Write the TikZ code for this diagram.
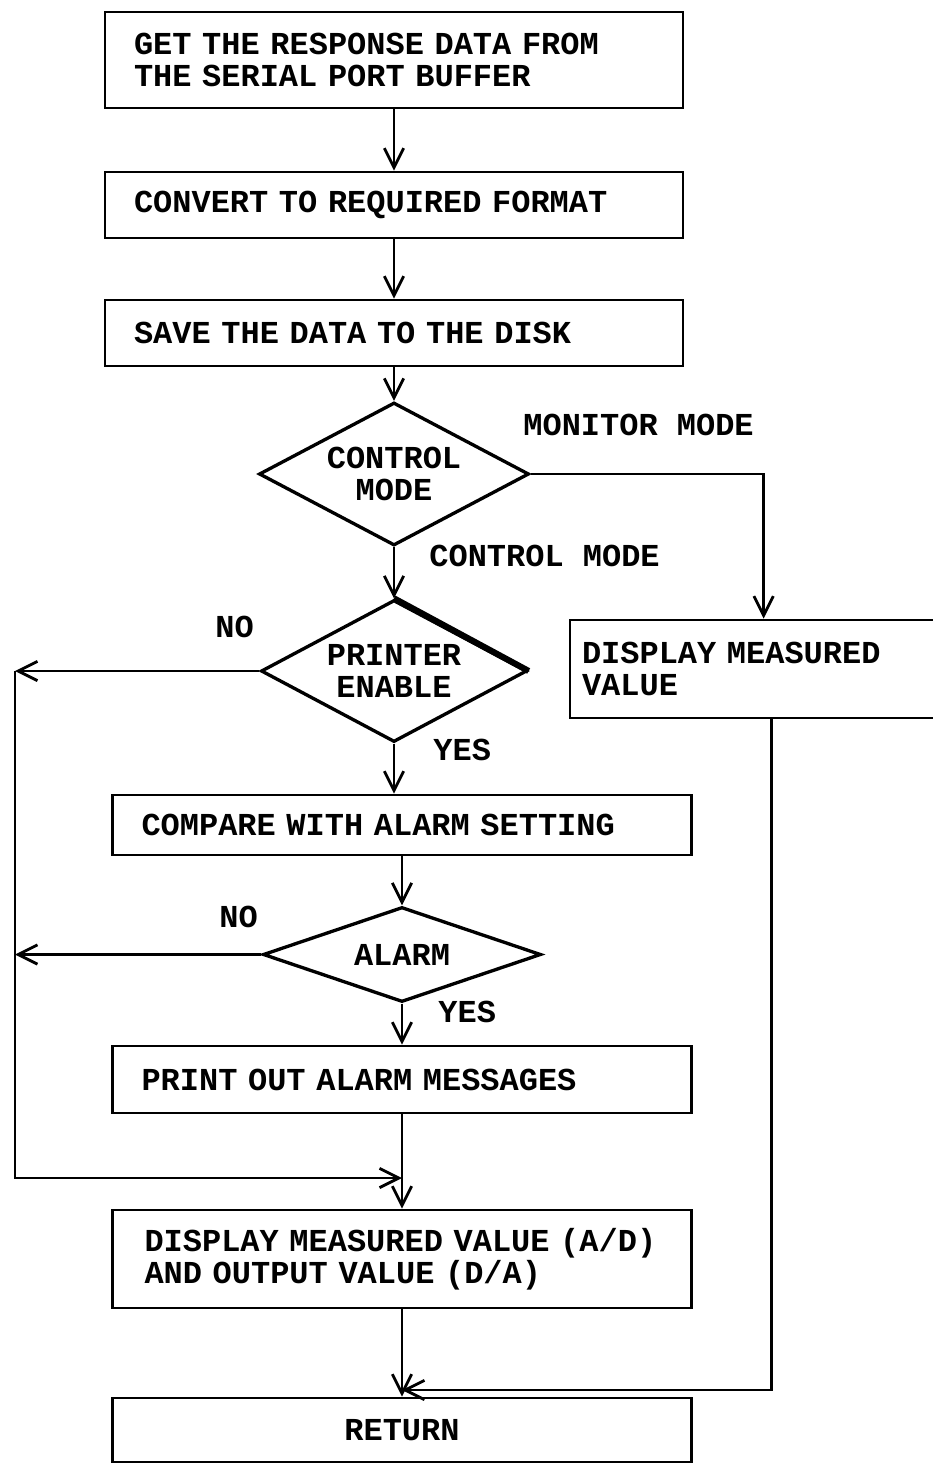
\documentclass[tikz,border=0pt]{standalone}
\usepackage{fontspec}
\setmainfont{Liberation Mono}
\usetikzlibrary{arrows.meta,shapes.geometric,calc}
% one unbreakable text line, indented from the left edge of its box
\newcommand\tline[2][0.58cm]{\mbox{\hspace*{#1}#2}}
% bold line-printer lettering with a full character cell for every space
\protected\def\flowfont{\bfseries\fontsize{18.2}{18}\selectfont
  \fontdimen2\font=0.6em\relax\fontdimen3\font=0pt\relax\fontdimen4\font=0pt\relax}

\begin{document}
\begin{tikzpicture}[
  line width=1.6pt,
  every node/.style={font=\flowfont},
  procbox/.style={draw, line width=1.6pt, inner xsep=0pt, inner ysep=0pt,
                  align=left, text width=#1, minimum width=#1},
  decbox/.style={draw, diamond, line width=1.9pt, inner sep=0pt, align=center},
  flow/.style={-{Straight Barb[length=11pt,width=11pt]}},
  lbl/.style={anchor=west, inner sep=0pt},
]
\useasboundingbox (0,0) rectangle (18.66,-29.32);
\clip (0,0) rectangle (18.66,-29.32);

% process boxes
\node[procbox=11.56cm, minimum height=1.92cm] (b1) at (7.88,-1.2)
  {\tline{GET THE RESPONSE DATA FROM}\\\tline{THE SERIAL PORT BUFFER}};
\node[procbox=11.56cm, minimum height=1.32cm] (b2) at (7.88,-4.10)
  {\tline{CONVERT TO REQUIRED FORMAT}};
\node[procbox=11.56cm, minimum height=1.32cm] (b3) at (7.88,-6.66)
  {\tline{SAVE THE DATA TO THE DISK}};

% decisions
\node[decbox, aspect=1.9, minimum width=5.4cm, minimum height=2.86cm] (d1) at (7.88,-9.48)
  {CONTROL\\MODE};
\node[decbox, aspect=1.9, minimum width=5.32cm, minimum height=2.84cm] (d2) at (7.88,-13.42)
  {PRINTER\\ENABLE};
\draw[line width=3.5pt] (d2.north) -- (d2.east);

\node[procbox=7.6cm, minimum height=1.96cm] (bR) at (15.2,-13.38)
  {\tline[0.24cm]{DISPLAY MEASURED}\\\tline[0.24cm]{VALUE}};

\node[procbox=11.58cm, minimum height=1.2cm] (b4) at (8.04,-16.5)
  {\tline{COMPARE WITH ALARM SETTING}};
\node[decbox, aspect=2.9, minimum width=5.56cm, minimum height=1.9cm] (d3) at (8.04,-19.09)
  {ALARM};
\node[procbox=11.58cm, minimum height=1.34cm] (b5) at (8.04,-21.59)
  {\tline{PRINT OUT ALARM MESSAGES}};
\node[procbox=11.58cm, minimum height=1.96cm] (b6) at (8.04,-25.18)
  {\tline[0.64cm]{DISPLAY MEASURED VALUE (A/D)}\\\tline[0.64cm]{AND OUTPUT VALUE (D/A)}};
\node[procbox=11.58cm, minimum height=1.28cm, align=center] (b7) at (8.04,-28.6)
  {RETURN};

% branch labels
\node[lbl] (lmon) at (10.44,-8.5) {MONITOR MODE};
\node[lbl] (lctl) at (8.56,-11.12) {CONTROL MODE};
\node[lbl] (lno1) at (4.28,-12.54) {NO};
\node[lbl] (lyes1) at (8.64,-15.0) {YES};
\node[lbl] (lno2) at (4.36,-18.34) {NO};
\node[lbl] (lyes2) at (8.74,-20.24) {YES};

% main flow
\draw[flow] (b1.south) -- (b2.north);
\draw[flow] (b2.south) -- (b3.north);
\draw[flow] (b3.south) -- (d1.north);
\draw[flow] (d1.south) -- (d2.north);
\draw[flow] (d2.south) -- (d2.south |- b4.north);
\draw[flow] (b4.south) -- (d3.north);
\draw[flow] (d3.south) -- (b5.north);
\draw[flow] (b5.south) -- (b6.north);
\draw[flow] (b6.south) -- (b7.north);

% monitor mode branch
\draw[flow] (d1.east) -| ($(bR.north west)+(3.9,0)$);
\coordinate (rety) at (0,-27.8);
\coordinate (m2) at (b6.south |- rety);
\draw[flow] ($(bR.south west)+(4.06,0)$) |- (m2);

% "NO" bypass rail on the left
\coordinate (railx) at (0.3,0);
\coordinate (railbot) at (0.3,-23.56);
\coordinate (m1) at (b5.south |- railbot);
\draw[flow] (d2.west) -- (d2.west -| railx);
\draw[flow] (d3.west) -- (d3.west -| railx);
\draw[flow] (d2.west -| railx) -- (railbot) -- (m1);
\end{tikzpicture}
\end{document}
